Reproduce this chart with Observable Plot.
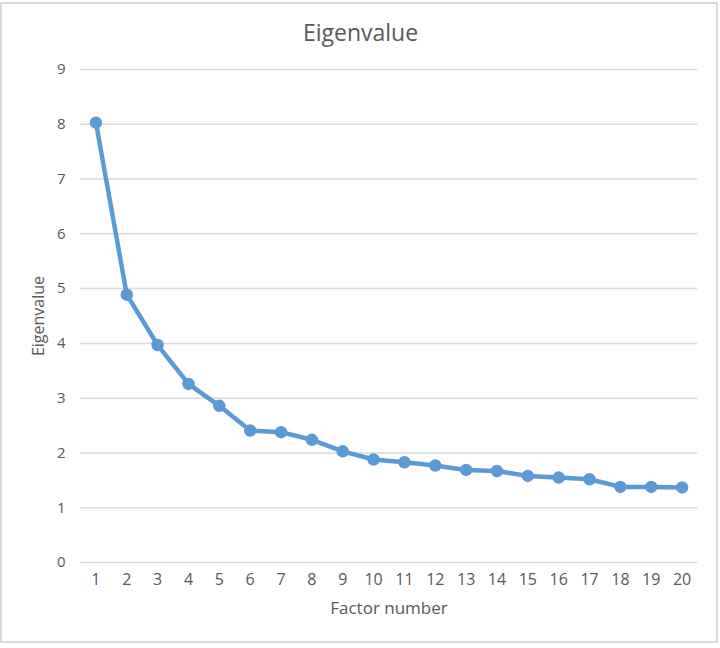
<!DOCTYPE html>
<html>
<head>
<meta charset="utf-8">
<script src="https://cdn.jsdelivr.net/npm/d3@7"></script>
<script src="https://cdn.jsdelivr.net/npm/@observablehq/plot@0.6"></script>
<style>
  html, body { margin: 0; padding: 0; background: #fff; }
  #wrap { position: relative; width: 720px; height: 648px; }
  #frame { position: absolute; left: 0; top: 2px; width: 718px; height: 641px; box-sizing: border-box; border: 2px solid #d9d9d9; pointer-events: none; }
</style>
</head>
<body>
<div id="wrap"><div id="frame"></div></div>
<script>
const factors = [1,2,3,4,5,6,7,8,9,10,11,12,13,14,15,16,17,18,19,20];
const eigenvalues = [8.03,4.89,3.97,3.26,2.86,2.41,2.38,2.24,2.03,1.88,1.83,1.77,1.69,1.67,1.58,1.55,1.52,1.38,1.38,1.37];
const yTicks = [0,1,2,3,4,5,6,7,8,9];
const titleText = "Eigenvalue";
const xLabel = "Factor number";
const yLabel = "Eigenvalue";

const data = factors.map((f, i) => ({factor: f, value: eigenvalues[i]}));
const textColor = "#595959";
const lineColor = "#5B9BD5";
const font = "'Open Sans', sans-serif";

const chart = Plot.plot({
  width: 720,
  height: 648,
  marginTop: 69,
  marginBottom: 86,
  marginLeft: 80,
  marginRight: 23,
  style: {fontFamily: font, background: "transparent", color: textColor},
  x: {type: "point", domain: factors, padding: 0.5, round: false},
  y: {domain: [0, 9]},
  marks: [
    Plot.gridY(yTicks, {stroke: "#d9d9d9", strokeOpacity: 1, strokeWidth: 1.5}),
    Plot.axisY(yTicks, {tickSize: 0, tickPadding: 15, fontSize: 15, fill: textColor, label: null, tickFormat: d => String(d)}),
    Plot.axisX(factors, {tickSize: 0, tickPadding: 11, fontSize: 16, fill: textColor, label: null, tickFormat: d => String(d)}),
    Plot.line(data, {x: "factor", y: "value", stroke: lineColor, strokeWidth: 4.5, strokeLinejoin: "round"}),
    Plot.dot(data, {x: "factor", y: "value", r: 5.5, fill: lineColor, stroke: lineColor}),
    Plot.text([titleText], {frameAnchor: "top-left", dx: 280, dy: -36, fontSize: 23, fill: textColor, textAnchor: "middle", lineAnchor: "middle"}),
    Plot.text([xLabel], {frameAnchor: "bottom", dy: 46, fontSize: 17, fill: textColor, textAnchor: "middle", lineAnchor: "middle"}),
    Plot.text([yLabel], {frameAnchor: "left", dx: -42, rotate: -90, fontSize: 16, fill: textColor, textAnchor: "middle", lineAnchor: "middle"})
  ]
});
document.getElementById("wrap").appendChild(chart);
chart.style.position = "absolute";
chart.style.left = "0";
chart.style.top = "0";
</script>
</body>
</html>
